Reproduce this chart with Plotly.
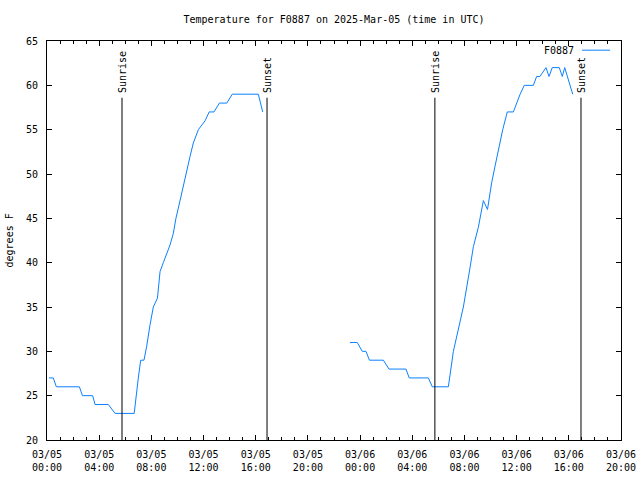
import plotly.graph_objects as go

# ---- data ----
times_day1 = ["2025-03-05 00:09", "2025-03-05 00:29", "2025-03-05 00:43", "2025-03-05 02:29",
              "2025-03-05 02:43", "2025-03-05 03:30", "2025-03-05 03:41", "2025-03-05 04:42",
              "2025-03-05 05:13", "2025-03-05 06:41", "2025-03-05 07:00", "2025-03-05 07:11",
              "2025-03-05 07:26", "2025-03-05 07:38", "2025-03-05 07:54", "2025-03-05 08:09",
              "2025-03-05 08:28", "2025-03-05 08:40", "2025-03-05 08:55", "2025-03-05 09:26",
              "2025-03-05 09:41", "2025-03-05 09:53", "2025-03-05 10:12", "2025-03-05 10:35",
              "2025-03-05 10:58", "2025-03-05 11:13", "2025-03-05 11:36", "2025-03-05 12:07",
              "2025-03-05 12:26", "2025-03-05 12:48", "2025-03-05 13:13", "2025-03-05 13:47",
              "2025-03-05 14:12", "2025-03-05 16:12", "2025-03-05 16:32"]
temps_day1 = [27, 27, 26, 26,
              25, 25, 24, 24,
              23, 23, 27, 29,
              29, 30.5, 33, 35,
              36, 39, 40, 42,
              43.3, 45, 47, 49.7,
              52, 53.5, 55, 56,
              57, 57, 58, 58,
              59, 59, 57]

times_day2 = ["2025-03-05 23:14", "2025-03-05 23:47", "2025-03-06 00:10", "2025-03-06 00:27",
              "2025-03-06 00:43", "2025-03-06 01:47", "2025-03-06 02:13", "2025-03-06 03:31",
              "2025-03-06 03:46", "2025-03-06 05:14", "2025-03-06 05:32", "2025-03-06 06:46",
              "2025-03-06 07:09", "2025-03-06 07:55", "2025-03-06 08:26", "2025-03-06 08:41",
              "2025-03-06 09:04", "2025-03-06 09:27", "2025-03-06 09:46", "2025-03-06 10:05",
              "2025-03-06 10:20", "2025-03-06 10:36", "2025-03-06 10:56", "2025-03-06 11:17",
              "2025-03-06 11:45", "2025-03-06 12:16", "2025-03-06 12:35", "2025-03-06 13:17",
              "2025-03-06 13:32", "2025-03-06 13:47", "2025-03-06 14:15", "2025-03-06 14:29",
              "2025-03-06 14:44", "2025-03-06 15:16", "2025-03-06 15:30", "2025-03-06 15:41",
              "2025-03-06 16:18"]
temps_day2 = [31, 31, 30, 30,
              29, 29, 28, 28,
              27, 27, 26, 26,
              30, 35, 39.5, 41.8,
              44, 47, 46, 49,
              50.8, 52.7, 55, 57,
              57, 59, 60, 60,
              61, 61, 62, 61,
              62, 62, 61, 62,
              59]

sun_times = ["2025-03-05 05:45", "2025-03-05 16:52", "2025-03-06 05:44", "2025-03-06 16:56"]
sun_labels = ["Sunrise", "Sunset", "Sunrise", "Sunset"]

series_name = "F0887"
title_text = "Temperature for F0887 on 2025-Mar-05 (time in UTC)"
x_range = ["2025-03-05 00:00", "2025-03-06 20:00"]
y_range = [20, 65]

FONT = "DejaVu Sans Mono"
LINE_COLOR = "#0a80ff"

x_all = times_day1 + [None] + times_day2
y_all = temps_day1 + [None] + temps_day2

fig = go.Figure()
fig.add_trace(go.Scatter(x=x_all, y=y_all, mode="lines", name=series_name,
                         line=dict(color=LINE_COLOR, width=1), connectgaps=False,
                         showlegend=False))

for t, lab in zip(sun_times, sun_labels):
    fig.add_shape(type="line", xref="x", yref="y", x0=t, x1=t, y0=y_range[0], y1=58.6,
                  line=dict(color="black", width=1))
    fig.add_annotation(x=t, y=58.9, xref="x", yref="y", text=lab, textangle=-90,
                       showarrow=False, xanchor="center", yanchor="bottom",
                       font=dict(family=FONT, size=10, color="black"))

# legend (gnuplot style: text then sample line)
fig.add_annotation(x=0.9216, y=0.977, xref="paper", yref="paper", text=series_name,
                   showarrow=False, xanchor="right", yanchor="middle",
                   font=dict(family=FONT, size=10, color="black"))
fig.add_shape(type="line", xref="paper", yref="paper", x0=0.932, x1=0.981, y0=0.977, y1=0.977,
              line=dict(color=LINE_COLOR, width=1))

# y axis title
fig.add_annotation(x=-0.0645, y=0.5, xref="paper", yref="paper", text="degrees F",
                   textangle=-90, showarrow=False, xanchor="center", yanchor="middle",
                   font=dict(family=FONT, size=10, color="black"))

fig.update_layout(
    width=640, height=480,
    margin=dict(l=47, r=19, t=41, b=40, autoexpand=False),
    paper_bgcolor="white", plot_bgcolor="white",
    font=dict(family=FONT, size=10, color="black"),
    title=dict(text=title_text, x=0.5, xref="paper", y=1 - 19 / 480, yref="container",
               xanchor="center", yanchor="middle",
               font=dict(family=FONT, size=10, color="black")),
    showlegend=False,
)
fig.update_xaxes(type="date", range=x_range, dtick=4 * 3600 * 1000, tick0="2025-03-05 00:00",
                 tickformat="%m/%d<br>%H:%M", ticks="inside", ticklen=5, tickcolor="black",
                 showline=True, linecolor="black", linewidth=1, mirror="allticks",
                 showgrid=False, zeroline=False, automargin=False, ticklabelstandoff=5,
                 minor=dict(dtick=3600 * 1000, ticks="inside", ticklen=3, tickcolor="black",
                            showgrid=False),
                 tickfont=dict(family=FONT, size=10, color="black"))
fig.update_yaxes(range=y_range, dtick=5, ticks="inside", ticklen=5, tickcolor="black",
                 showline=True, linecolor="black", linewidth=1, mirror="allticks",
                 showgrid=False, zeroline=False, automargin=False, ticklabelstandoff=6,
                 tickfont=dict(family=FONT, size=10, color="black"))

fig.write_html("out.html", config={"displayModeBar": False},
               post_script="document.body.style.margin='0';")
